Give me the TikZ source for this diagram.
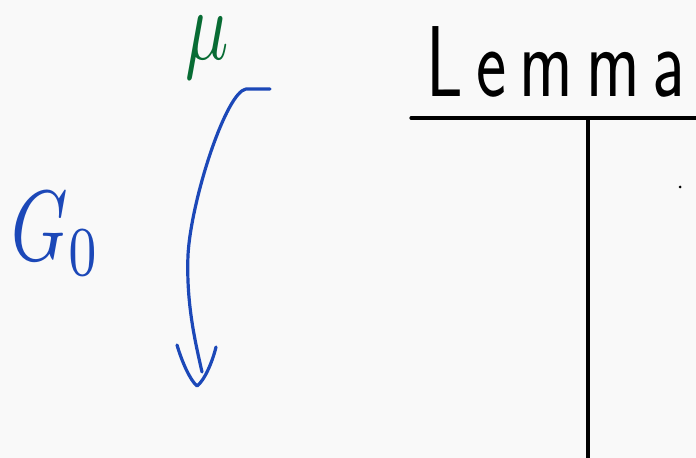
\documentclass[tikz,border=0pt]{standalone}
\usepackage{fontspec}
\usepackage{graphicx}
\definecolor{inkblue}{RGB}{28,72,184}
\definecolor{inkgreen}{RGB}{8,108,52}
\definecolor{paper}{RGB}{249,249,249}
\newfontfamily\lemmafont[LetterSpace=18]{Latin Modern Sans}

\begin{document}
\begin{tikzpicture}[x=0.5pt,y=-0.5pt,line cap=round,line join=round]
\fill[paper] (0,0) rectangle (696,458);
\useasboundingbox (0,0) rectangle (696,458);
% labels on the left
\node[text=inkgreen,inner sep=0pt] (mu) at (207,48) {\scalebox{3.6}[5.0]{$\mu$}};
\node[text=inkblue,inner sep=0pt] (gzero) at (56,234) {\scalebox{3.6}[5.0]{$G_0$}};
% the curved arrow
\coordinate (start) at (270,89);
\coordinate (bend) at (246,89);
\coordinate (mid) at (188,255);
\coordinate (tip) at (202,372);
\draw[inkblue,line width=1.6pt] (start) -- (bend)
  .. controls (226,92) and (191,200) .. (mid)
  .. controls (186,305) and (196,345) .. (tip);
\draw[inkblue,line width=1.6pt] (177,345) .. controls (182,362) and (190,380) .. (197,386)
  .. controls (205,380) and (213,360) .. (216,347);
% the lemma table
\node[font=\fontsize{36}{40}\selectfont\lemmafont,anchor=base,inner sep=0pt] (lemma) at (556,97) {\scalebox{1}[1.4]{Lemma}};
\coordinate (hl) at (411,118);
\coordinate (hr) at (696,118);
\coordinate (vt) at (588,118);
\coordinate (vb) at (588,458);
\draw[black,line width=1.6pt] (hl) -- (hr);
\draw[black,line width=1.6pt] (vt) -- (vb);
\fill[black] (680,187) circle (1.5);
\end{tikzpicture}
\end{document}
